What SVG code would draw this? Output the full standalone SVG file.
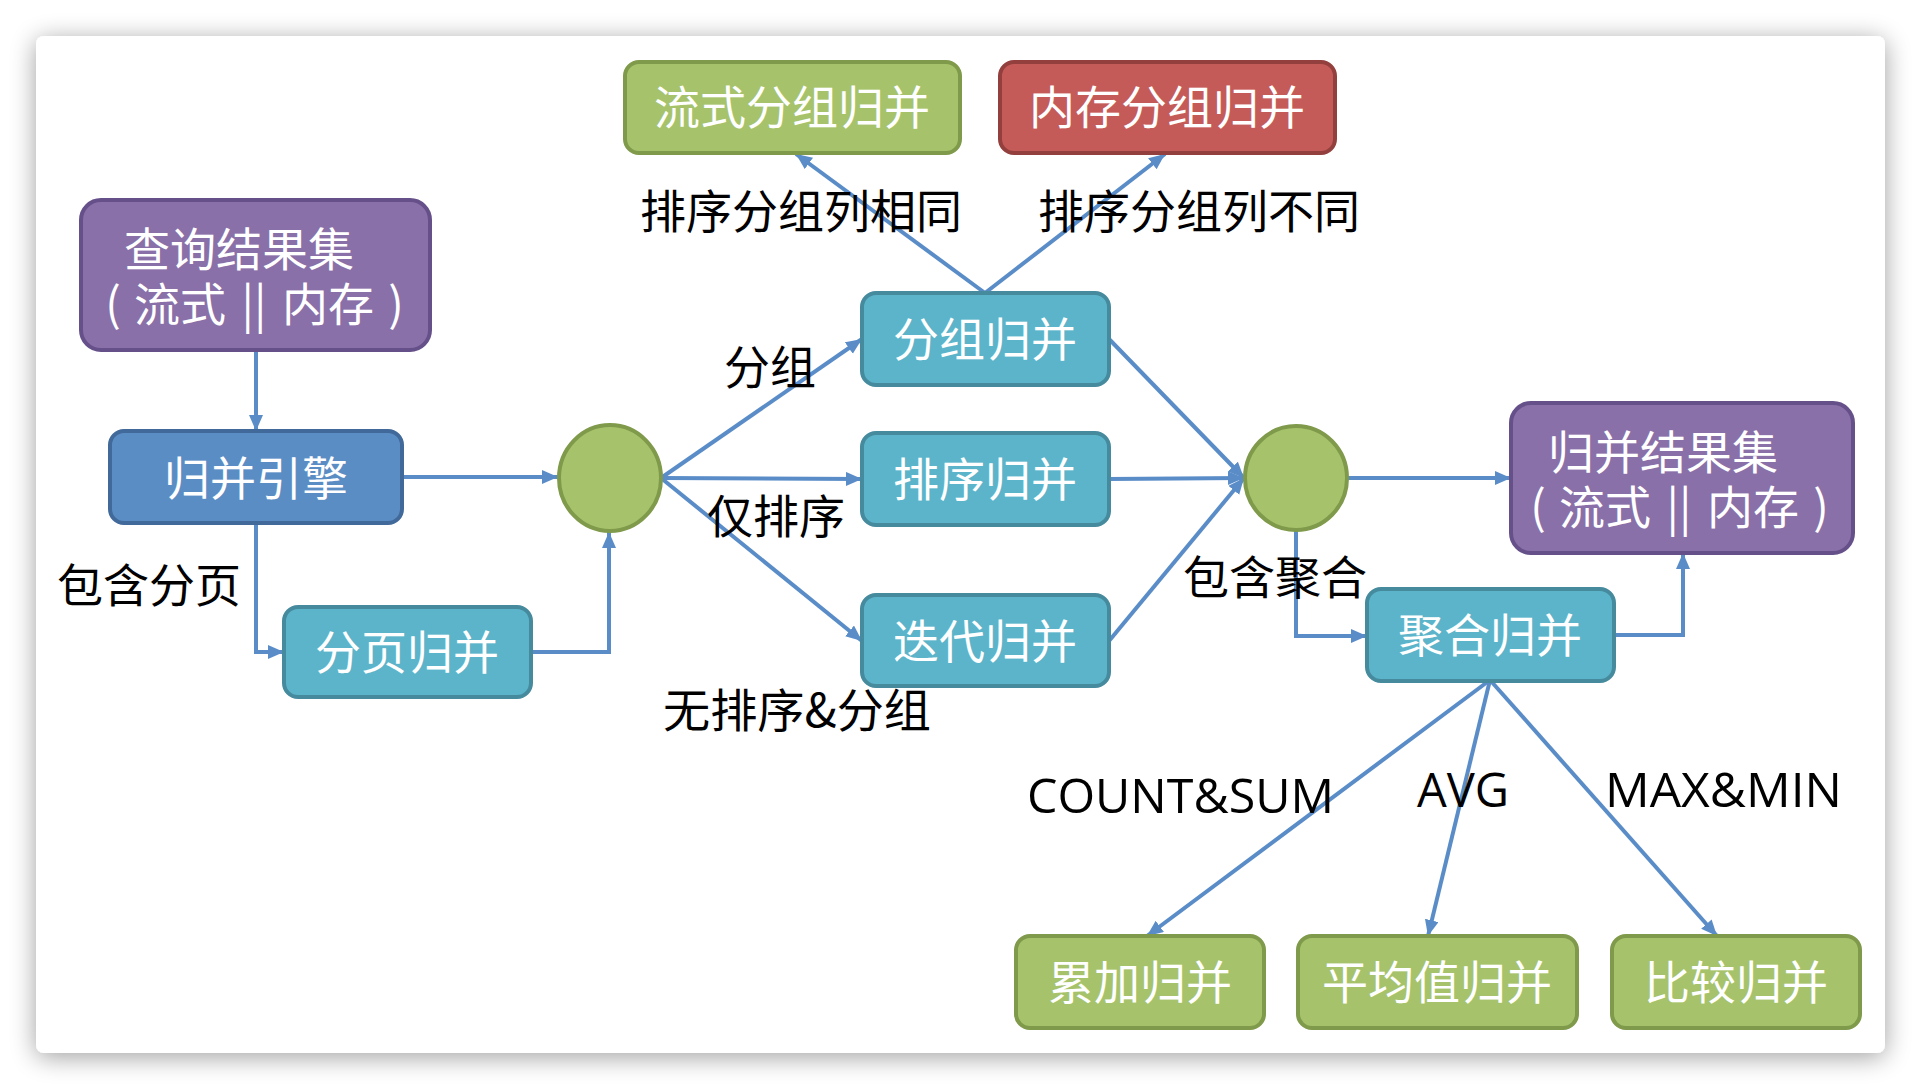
<svg xmlns="http://www.w3.org/2000/svg" width="1922" height="1090" viewBox="0 0 1922 1090">
  <defs>
    <filter id="cardShadow" x="-10%" y="-10%" width="120%" height="120%">
      <feGaussianBlur in="SourceAlpha" stdDeviation="13"/>
      <feOffset dx="0" dy="4" result="b"/>
      <feComponentTransfer><feFuncA type="linear" slope="0.38"/></feComponentTransfer>
      <feMerge><feMergeNode/><feMergeNode in="SourceGraphic"/></feMerge>
    </filter>
    <marker id="arr" markerUnits="userSpaceOnUse" markerWidth="18" markerHeight="16" refX="16" refY="7" orient="auto">
      <path d="M0,0 L16,7 L0,14 Z" fill="#5A8DC8"/>
    </marker>
    <style>
      .box { stroke-width: 4; }
      .teal { fill: #5BB4CA; stroke: #468A9E; }
      .green { fill: #A6C36B; stroke: #7F9A4A; }
      .red { fill: #C55B58; stroke: #933F3D; }
      .purple { fill: #8A70A8; stroke: #65508A; }
      .blue { fill: #5B8DC5; stroke: #41699A; }
      .wt { fill: #FFFFFF; font-family: "Noto Sans CJK SC", "Noto Sans", sans-serif; font-size: 46px; text-anchor: middle; }
      .lbl { fill: #000000; font-family: "Noto Sans CJK SC", "Noto Sans", sans-serif; font-size: 46px; }
      .lat { fill: #000000; font-family: "Open Sans", "Liberation Sans", sans-serif; font-size: 48px; }
      .conn { fill: none; stroke: #5A8DC8; stroke-width: 4; }
    </style>
  </defs>

  <rect x="0" y="0" width="1922" height="1090" fill="#FFFFFF"/>
  <rect x="36" y="36" width="1849" height="1017" rx="8" fill="#FFFFFF" filter="url(#cardShadow)"/>

  <g id="connectors">
    <path class="conn" d="M256,351 L256,431" marker-end="url(#arr)"/>
    <path class="conn" d="M402,477 L558,477" marker-end="url(#arr)"/>
    <path class="conn" d="M256,523 L256,652 L284,652" marker-end="url(#arr)"/>
    <path class="conn" d="M531,652 L609,652 L609,532" marker-end="url(#arr)"/>
    <path class="conn" d="M661,478 L862,339" marker-end="url(#arr)"/>
    <path class="conn" d="M661,478 L862,479" marker-end="url(#arr)"/>
    <path class="conn" d="M661,478 L862,641" marker-end="url(#arr)"/>
    <path class="conn" d="M1109,339 L1244,478" marker-end="url(#arr)"/>
    <path class="conn" d="M1109,479 L1244,478" marker-end="url(#arr)"/>
    <path class="conn" d="M1109,641 L1244,478" marker-end="url(#arr)"/>
    <path class="conn" d="M985,293 L796,154" marker-end="url(#arr)"/>
    <path class="conn" d="M985,293 L1165,154" marker-end="url(#arr)"/>
    <path class="conn" d="M1347,478 L1511,478" marker-end="url(#arr)"/>
    <path class="conn" d="M1296,531 L1296,636 L1367,636" marker-end="url(#arr)"/>
    <path class="conn" d="M1614,635 L1683,635 L1683,553" marker-end="url(#arr)"/>
    <path class="conn" d="M1490,680 L1147,936" marker-end="url(#arr)"/>
    <path class="conn" d="M1490,680 L1428,936" marker-end="url(#arr)"/>
    <path class="conn" d="M1490,680 L1717,936" marker-end="url(#arr)"/>
  </g>

  <g id="n-liushi-group">
    <rect class="box green" x="625" y="62" width="335" height="91" rx="14"/>
    <text class="wt" x="792" y="124">流式分组归并</text>
  </g>
  <g id="n-neicun-group">
    <rect class="box red" x="1000" y="62" width="335" height="91" rx="14"/>
    <text class="wt" x="1167" y="124">内存分组归并</text>
  </g>
  <g id="n-query-result">
    <rect class="box purple" x="81" y="200" width="349" height="150" rx="20"/>
    <text class="wt"><tspan x="239" y="266">查询结果集</tspan><tspan x="113" y="321">(</tspan><tspan x="180" y="321">流式</tspan><tspan x="254" y="321">||</tspan><tspan x="328" y="321">内存</tspan><tspan x="396" y="321">)</tspan></text>
  </g>
  <g id="n-engine">
    <rect class="box blue" x="110" y="431" width="292" height="92" rx="14"/>
    <text class="wt" x="256" y="495">归并引擎</text>
  </g>
  <g id="n-paging">
    <rect class="box teal" x="284" y="607" width="247" height="90" rx="14"/>
    <text class="wt" x="407" y="669">分页归并</text>
  </g>
  <g id="n-circle1">
    <ellipse cx="610" cy="478" rx="51" ry="53" fill="#A6C36B" stroke="#7F9A4A" stroke-width="4"/>
  </g>
  <g id="n-group">
    <rect class="box teal" x="862" y="293" width="247" height="92" rx="14"/>
    <text class="wt" x="985" y="356">分组归并</text>
  </g>
  <g id="n-sort">
    <rect class="box teal" x="862" y="433" width="247" height="92" rx="14"/>
    <text class="wt" x="985" y="496">排序归并</text>
  </g>
  <g id="n-iter">
    <rect class="box teal" x="862" y="595" width="247" height="91" rx="14"/>
    <text class="wt" x="985" y="658">迭代归并</text>
  </g>
  <g id="n-circle2">
    <ellipse cx="1296" cy="478" rx="51" ry="52" fill="#A6C36B" stroke="#7F9A4A" stroke-width="4"/>
  </g>
  <g id="n-merge-result">
    <rect class="box purple" x="1511" y="403" width="342" height="150" rx="20"/>
    <text class="wt"><tspan x="1663" y="469">归并结果集</tspan><tspan x="1538" y="524">(</tspan><tspan x="1605" y="524">流式</tspan><tspan x="1679" y="524">||</tspan><tspan x="1753" y="524">内存</tspan><tspan x="1821" y="524">)</tspan></text>
  </g>
  <g id="n-agg">
    <rect class="box teal" x="1367" y="589" width="247" height="92" rx="14"/>
    <text class="wt" x="1490" y="652">聚合归并</text>
  </g>
  <g id="n-sum">
    <rect class="box green" x="1016" y="936" width="248" height="92" rx="14"/>
    <text class="wt" x="1140" y="999">累加归并</text>
  </g>
  <g id="n-avg">
    <rect class="box green" x="1298" y="936" width="279" height="92" rx="14"/>
    <text class="wt" x="1437" y="999">平均值归并</text>
  </g>
  <g id="n-cmp">
    <rect class="box green" x="1612" y="936" width="248" height="92" rx="14"/>
    <text class="wt" x="1736" y="999">比较归并</text>
  </g>

  <g id="labels">
    <text class="lbl" x="640" y="228">排序分组列相同</text>
    <text class="lbl" x="1038" y="228">排序分组列不同</text>
    <text class="lbl" x="724" y="384">分组</text>
    <text class="lbl" x="707" y="533">仅排序</text>
    <text class="lbl" x="663" y="727" textLength="268" lengthAdjust="spacingAndGlyphs">无排序&amp;分组</text>
    <text class="lbl" x="57" y="602">包含分页</text>
    <text class="lbl" x="1183" y="594">包含聚合</text>
    <text class="lat" x="1027" y="813" textLength="307" lengthAdjust="spacingAndGlyphs">COUNT&amp;SUM</text>
    <text class="lat" x="1417" y="807" textLength="92" lengthAdjust="spacingAndGlyphs">AVG</text>
    <text class="lat" x="1605" y="807" textLength="237" lengthAdjust="spacingAndGlyphs">MAX&amp;MIN</text>
  </g>
</svg>
